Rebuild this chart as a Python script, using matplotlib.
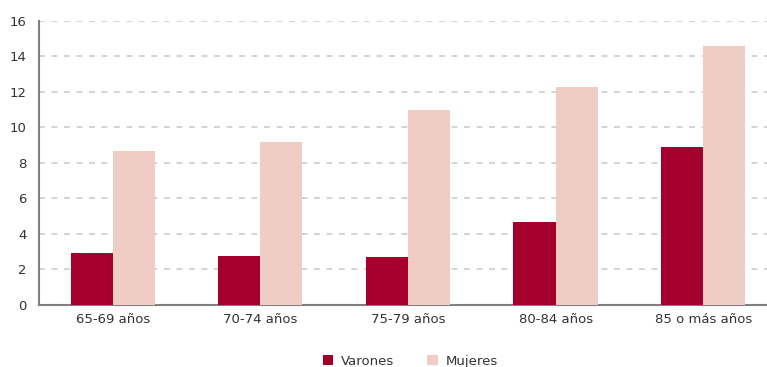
import matplotlib
matplotlib.use("Agg")
import matplotlib.pyplot as plt
import numpy as np

categories = ["65-69 años", "70-74 años", "75-79 años", "80-84 años", "85 o más años"]
varones = [2.95, 2.75, 2.7, 4.7, 8.9]
mujeres = [8.7, 9.2, 11.0, 12.3, 14.6]
yticks = [0, 2, 4, 6, 8, 10, 12, 14, 16]

plt.rcParams['font.family'] = ['DejaVu Sans']
fig = plt.figure(figsize=(7.67, 3.67), dpi=100)
ax = fig.add_axes([0.0508, 0.169, 738/767, 0.774])

x = np.arange(len(categories))
w = 0.285
ax.bar(x - w/2, varones, w, color="#A5002D", label="Varones", zorder=3)
ax.bar(x + w/2, mujeres, w, color="#F0CDC4", label="Mujeres", zorder=3)

ax.set_xlim(-0.5, len(categories) - 0.5)
ax.set_ylim(0, 16)
ax.set_yticks(yticks)
ax.set_xticks(x)
ax.set_xticklabels(categories)
ax.tick_params(axis='both', length=0, labelsize=9.5, colors="#333333")
ax.tick_params(axis='x', pad=6)
ax.tick_params(axis='y', pad=9)
ax.yaxis.grid(True, linestyle=(0, (3.5, 4)), color="#CCCCCC", linewidth=1.2, zorder=0)
for s in ["top", "right"]:
    ax.spines[s].set_visible(False)
for s in ["left", "bottom"]:
    ax.spines[s].set_color("#808080")
    ax.spines[s].set_linewidth(1.5)

leg = fig.legend(loc="center", bbox_to_anchor=(0.535, 0.015), ncol=2, frameon=False,
                 fontsize=9.5, handlelength=0.8, handleheight=0.8, columnspacing=2.5,
                 handletextpad=0.6, labelcolor="#333333")
fig.savefig("out.png", dpi=100)
